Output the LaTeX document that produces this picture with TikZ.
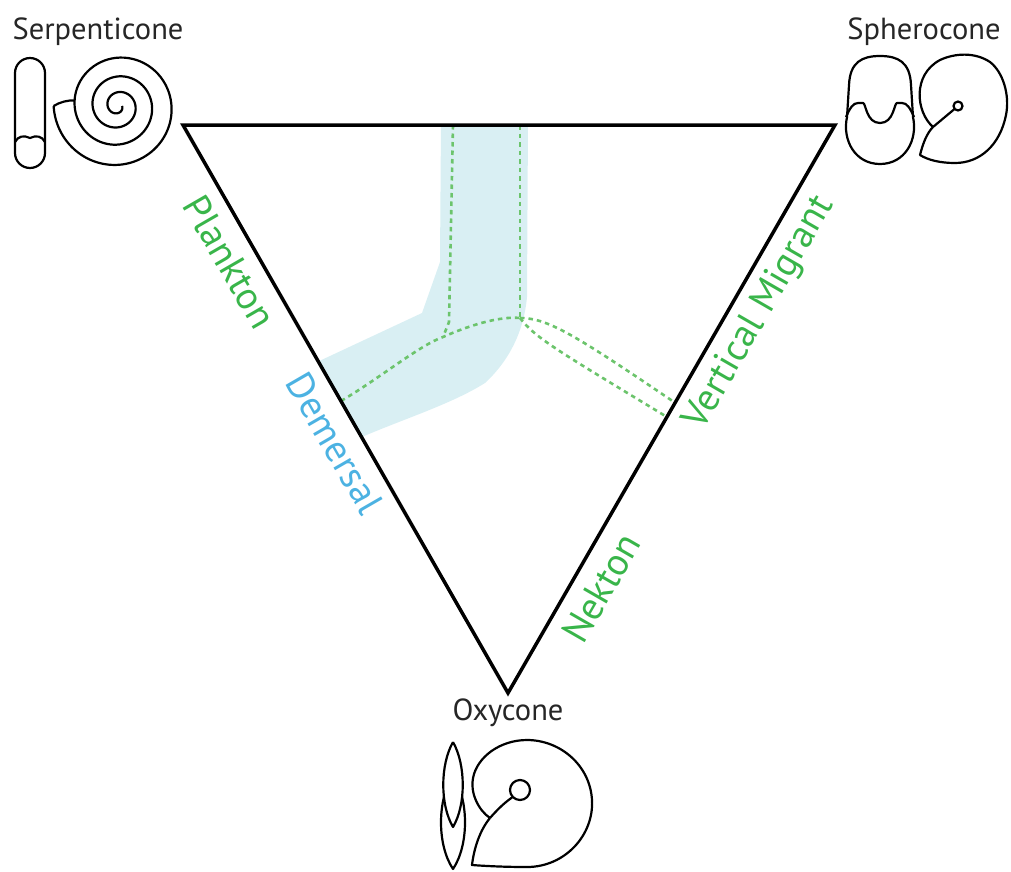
\documentclass[tikz,border=0pt]{standalone}
\usepackage{fontspec}
\setmainfont{PT Sans}
\usetikzlibrary{calc}

\definecolor{nichegreen}{RGB}{57,181,74}
\definecolor{trackgreen}{RGB}{108,196,108}
\definecolor{demblue}{RGB}{76,178,226}
\definecolor{bandblue}{RGB}{217,239,243}

\begin{document}
\begin{tikzpicture}[x=1pt,y=-1pt,
    shell/.style={draw, line width=2.2pt, line join=round},
    morph/.style={font=\fontsize{30.5}{32}\selectfont, text=black!85},
    mode/.style={font=\fontsize{38.5}{40}\selectfont, text=nichegreen},
    track/.style={trackgreen, line width=2.6pt, dash pattern=on 4.5pt off 4pt}]
\useasboundingbox (0,0) rectangle (1011,871);

% corners of the ternary plot
\coordinate (S) at (183,125);
\coordinate (P) at (835,125);
\coordinate (O) at (508,693);

% demersal field
\begin{scope}
    \clip (S) -- (P) -- (O) -- cycle;
    \fill[bandblue] (441,120) -- (528,120) -- (527,297)
        .. controls (524,330) and (510,360) .. (485,383)
        .. controls (450,405) and (400,420) .. (355,440)
        -- (300,370) -- (422,313) -- (440,262) -- cycle;
\end{scope}

% morphospace tracks
\coordinate (dem) at ($(S)!0.486!(O)$);
\coordinate (vm1) at ($(O)!0.511!(P)$);
\coordinate (vm2) at ($(O)!0.486!(P)$);
\coordinate (jl) at (443,337);
\coordinate (jr) at (520,318);
\draw[track] (453,125) -- (449,322) -- (jl);
\draw[track] (520,125) -- (jr);
\draw[track] (dem) .. controls (380,378) and (420,345) .. (jl)
    .. controls (470,325) and (500,316) .. (jr);
\draw[track] (jr) .. controls (548,318) and (575,335) .. (vm1);
\draw[track] (jr) .. controls (535,338) and (560,352) .. (vm2);

\draw[line width=3.5pt] (S) -- (P) -- (O) -- cycle;

% labels
\node[mode, rotate=-60] (plankton) at (230,262) {Plankton};
\node[mode, rotate=-60, text=demblue] (demersal) at (335,443) {Demersal};
\node[mode, rotate=60] (migrant) at (760,313) {Vertical Migrant};
\node[mode, rotate=60] (nekton) at (601,588) {Nekton};
\node[morph] (serp) at (98,32) {Serpenticone};
\node[morph] (sphero) at (924,32) {Spherocone};
\node[morph] (oxy) at (508,713) {Oxycone};

% serpenticone
\draw[shell, rounded corners=15pt] (15,58) rectangle (45,168);
\draw[shell] (15,142) .. controls (18,136) and (24,135) .. (30,138)
    .. controls (36,135) and (42,136) .. (45,142);
\draw[shell] plot[domain=0:1260, samples=260, smooth]
    ({118+(4+12*\x/360+1.5*(\x/360)^2)*cos(\x)},
     {106+(4+12*\x/360+1.5*(\x/360)^2)*sin(\x)});
\draw[shell] (53.6,106) .. controls (60,102) and (68,100) .. (74.5,100.5);

% spherocone
\draw[shell] (847,117) -- (849,85) .. controls (850,62) and (862,56) .. (880,56)
    .. controls (898,56) and (910,62) .. (911,85) -- (913,117)
    .. controls (918,140) and (905,164) .. (880,164)
    .. controls (855,164) and (842,140) .. (847,117) -- cycle;
\draw[shell] (846,117) .. controls (850,108) and (853,103) .. (858,103) -- (863,103)
    .. controls (866,103) and (866,123) .. (880,123)
    .. controls (894,123) and (894,103) .. (897,103) -- (902,103)
    .. controls (907,103) and (910,108) .. (914,117);
\coordinate (sj) at (933,127);
\draw[shell] (sj) .. controls (916,112) and (912,75) .. (940,60)
    .. controls (955,53) and (975,52) .. (990,62)
    .. controls (1003,72) and (1010,95) .. (1006,115)
    .. controls (1000,145) and (980,163) .. (955,163)
    .. controls (940,163) and (928,160) .. (920,155)
    .. controls (923,143) and (927,133) .. (sj);
\draw[shell] (958,106) circle (4.5);
\draw[shell] (sj) -- (954.5,109);

% oxycone
\draw[shell] (453,775) .. controls (437,800) and (437,845) .. (453,869)
    .. controls (469,845) and (469,800) .. (453,775);
\draw[shell, fill=white] (453,742) .. controls (440,765) and (440,805) .. (453,827)
    .. controls (466,805) and (466,765) .. (453,742);
\coordinate (oj) at (490,818);
\draw[shell] (oj) .. controls (478,810) and (470,792) .. (473,778)
    .. controls (477,757) and (500,740) .. (527,740)
    .. controls (560,740) and (590,765) .. (592,800)
    .. controls (594,835) and (565,867) .. (527,867)
    .. controls (505,867) and (485,866) .. (472,865)
    .. controls (474,848) and (480,830) .. (oj);
\draw[shell] (520,790) circle (10);
\draw[shell] (oj) .. controls (497,810) and (504,803) .. (512,797.5);
\end{tikzpicture}
\end{document}
